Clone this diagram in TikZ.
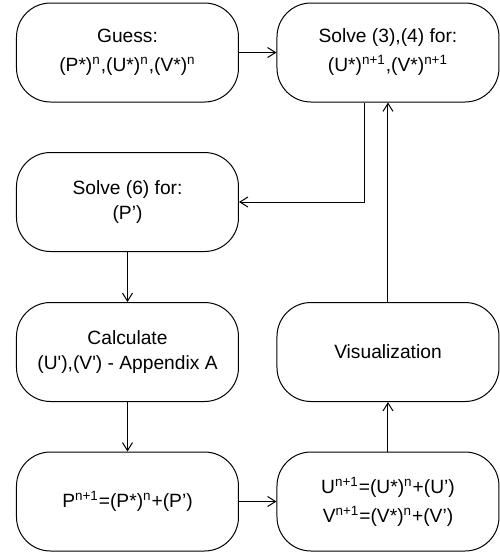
\documentclass[tikz,border=0pt]{standalone}
\usepackage{fontspec}
\newfontfamily\arialfont{Liberation Sans}
\usetikzlibrary{arrows.meta}

\begin{document}
\begin{tikzpicture}[x=0.5pt,y=-0.5pt,
    stage/.style={draw,line width=0.5pt,rounded corners=17pt,
      minimum width=111pt,minimum height=49.5pt,align=center,
      font=\arialfont\fontsize{9.6}{12.5}\selectfont},
    flow/.style={line width=0.5pt,-{Straight Barb[length=4pt,width=5pt]}}]
  \useasboundingbox (0,0) rectangle (500,554);
  \node[stage] (guess) at (127.5,52.5) {Guess:\\[2pt](P*)\textsuperscript{n},(U*)\textsuperscript{n},(V*)\textsuperscript{n}};
  \node[stage] (solveuv) at (388,52.5) {Solve (3),(4) for:\\[2pt](U*)\textsuperscript{n+1},(V*)\textsuperscript{n+1}};
  \node[stage] (solvep) at (127.5,202) {Solve (6) for:\\(P’)};
  \node[stage] (calc) at (127.5,352) {Calculate\\(U'),(V') - Appendix A};
  \node[stage] (visual) at (388,352) {Visualization};
  \node[stage] (updp) at (127.5,501.5) {P\textsuperscript{n+1}=(P*)\textsuperscript{n}+(P’)};
  \node[stage] (updu) at (388,501.5) {U\textsuperscript{n+1}=(U*)\textsuperscript{n}+(U’)\\[2pt]V\textsuperscript{n+1}=(V*)\textsuperscript{n}+(V’)};
  % arrows
  \draw[flow] (guess) -- (solveuv);
  \draw[flow] ([xshift=-11.5pt]solveuv.south) |- (solvep.east);
  \draw[flow] (solvep) -- (calc);
  \draw[flow] (calc) -- (updp);
  \draw[flow] (updp) -- (updu);
  \draw[flow] (updu) -- (visual);
  \draw[flow] (visual) -- (solveuv);
\end{tikzpicture}
\end{document}
